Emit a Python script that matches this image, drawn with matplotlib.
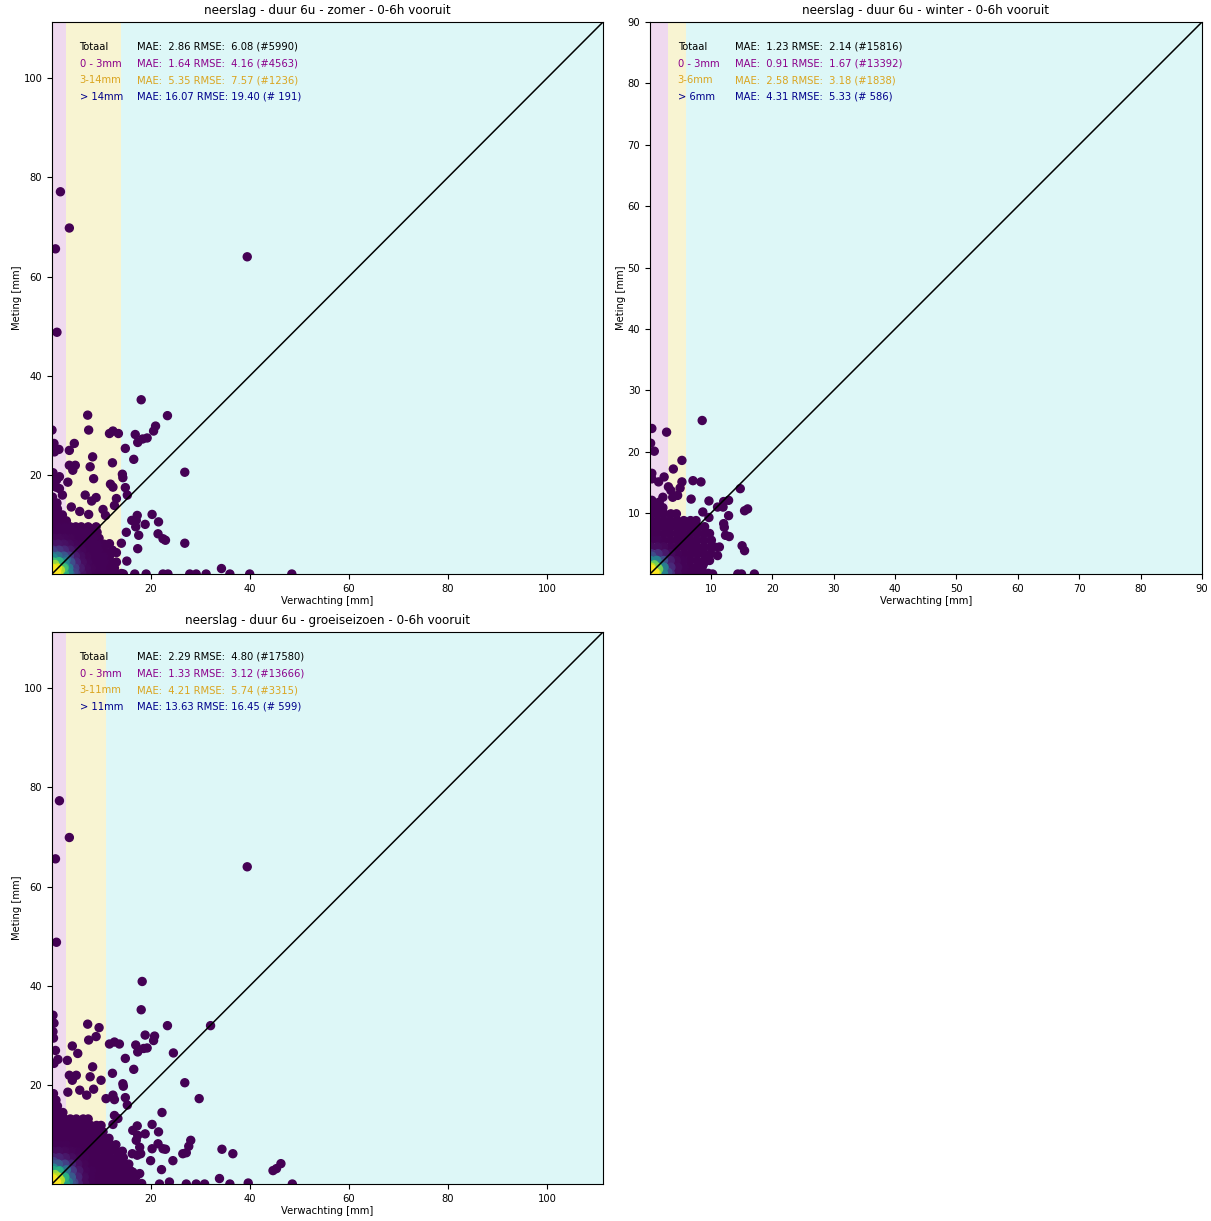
import numpy as np
import matplotlib
matplotlib.use("Agg")
from matplotlib import pyplot as plt

plt.rcParams['font.size'] = 7.2

#============== DATA ==============
# losse punten (verwachting, meting) [mm]
zomer_punten = [
    (18.1, 35.2), (7.3, 32.1), (23.4, 32.0), (7.5, 29.1), (0.1, 29.1), (21.0, 29.9), (20.6, 28.9),
    (11.7, 28.4), (12.4, 28.9), (13.5, 28.4), (16.9, 28.2), (17.4, 26.6), (18.4, 27.3), (19.3, 27.5),
    (4.6, 26.4), (3.6, 25.0), (1.5, 25.2), (0.6, 24.7), (0.5, 26.4), (14.9, 25.4), (8.3, 23.7),
    (16.6, 23.2), (12.3, 22.5), (3.6, 22.0), (4.8, 22.0), (4.3, 21.0), (7.8, 21.7), (26.9, 20.6),
    (1.6, 19.7), (8.5, 19.3), (14.3, 20.2), (14.4, 19.5), (3.3, 18.6), (0.9, 17.6), (1.6, 17.3),
    (11.9, 18.2), (12.4, 17.6), (14.9, 17.5), (15.3, 16.0), (6.8, 16.0), (9.0, 15.5), (8.1, 14.8),
    (13.1, 15.3), (12.7, 13.9), (2.2, 16.0), (4.0, 13.6), (5.7, 12.7), (7.5, 12.1), (10.4, 13.1),
    (10.9, 11.9), (17.3, 11.9), (17.1, 10.9), (18.9, 10.1), (20.3, 12.1), (16.2, 10.9), (21.6, 10.6),
    (21.5, 8.2), (22.5, 7.2), (23.0, 6.9), (26.9, 6.3), (17.4, 5.2), (17.6, 7.9), (17.0, 9.6),
    (15.1, 8.5), (14.1, 6.3), (13.1, 4.4), (11.7, 6.2), (16.8, 0.1), (19.1, 0.1), (22.5, 0.1),
    (23.5, 0.1), (27.9, 0.1), (29.2, 0.1), (31.2, 0.1), (34.3, 1.2), (36.0, 0.1), (40.0, 0.1),
    (48.5, 0.1), (14.5, 0.1), (15.2, 2.7), (0.3, 20.5), (1.0, 19.0), (0.5, 18.0),
    (1.8, 77.1), (3.6, 69.8), (0.8, 65.6), (1.1, 48.8), (39.5, 64.0),
]
winter_punten = [
    (8.6, 25.1), (0.4, 23.8), (2.8, 23.2), (0.2, 21.4), (0.8, 20.1), (5.3, 18.6), (3.9, 17.2),
    (0.4, 16.5), (0.4, 15.6), (2.4, 15.9), (1.5, 15.1), (5.3, 15.1), (5.0, 14.1), (7.1, 15.3),
    (8.4, 15.1), (3.1, 14.3), (3.5, 13.7), (14.8, 14.0), (2.2, 12.6), (0.4, 12.1), (1.6, 11.8),
    (6.8, 12.3), (3.8, 12.6), (4.6, 12.9), (9.7, 12.0), (12.9, 12.1), (12.1, 11.9), (12.0, 11.0),
    (11.1, 11.0), (15.5, 10.4), (16.0, 10.7), (12.9, 9.6), (12.1, 8.3), (12.2, 7.7), (12.4, 6.4),
    (13.0, 6.2), (15.1, 4.7), (15.5, 3.9), (11.4, 4.5), (11.1, 3.1), (8.8, 1.7), (10.3, 0.1),
    (14.4, 0.1), (15.0, 0.1), (17.1, 0.1), (9.7, 9.3), (8.7, 10.2),
]
groei_punten = [
    (18.3, 40.9), (18.1, 35.2), (23.4, 32.0), (32.1, 32.0), (7.3, 32.3), (9.6, 31.6), (7.5, 29.1),
    (9.0, 29.8), (18.9, 30.1), (20.8, 29.9), (20.6, 29.0), (0.3, 34.1), (0.5, 32.5), (0.3, 30.8),
    (11.7, 28.3), (12.7, 28.7), (13.7, 28.3), (17.0, 28.1), (17.4, 26.7), (18.6, 27.4), (19.3, 27.5),
    (24.6, 26.5), (14.9, 25.4), (16.6, 23.2), (4.2, 27.9), (5.3, 26.4), (3.2, 25.0), (1.3, 25.2),
    (0.5, 24.4), (8.3, 23.7), (12.3, 22.4), (26.9, 20.5), (29.8, 17.3), (22.3, 14.5), (3.6, 22.0),
    (5.0, 22.0), (4.2, 21.0), (7.8, 21.7), (10.0, 21.0), (8.5, 19.2), (3.3, 18.6), (5.7, 19.0),
    (7.1, 18.0), (11.0, 17.3), (14.4, 20.3), (14.5, 19.8), (12.4, 18.0), (12.7, 17.1), (14.9, 17.5),
    (15.3, 16.0), (12.7, 13.9), (13.4, 13.3), (12.4, 12.1), (20.3, 12.1), (21.6, 10.6), (18.9, 10.2),
    (17.3, 11.8), (16.4, 10.9), (17.4, 9.9), (17.1, 8.9), (17.8, 7.5), (18.0, 6.2), (20.3, 7.2),
    (20.0, 4.8), (21.5, 8.2), (22.5, 7.2), (23.0, 7.1), (24.5, 4.8), (22.2, 3.0), (26.5, 6.2),
    (27.2, 6.4), (28.1, 8.9), (27.7, 7.7), (34.4, 7.1), (36.6, 6.2), (33.9, 1.2), (44.7, 2.8),
    (46.3, 4.2), (45.4, 3.2), (39.7, 0.3), (48.6, 0.1), (21.8, 0.1), (23.8, 0.5), (27.2, 0.1),
    (29.2, 0.1), (30.9, 0.1), (36.0, 0.1), (15.2, 2.7), (16.4, 2.5), (17.8, 2.2), (12.4, 4.5),
    (13.4, 3.5), (16.3, 6.2), (17.3, 5.9), (0.4, 29.5), (0.8, 27.0),
    (1.6, 77.3), (0.8, 65.6), (3.6, 69.9), (1.0, 48.8), (39.5, 64.0),
]

# dichte wolk bij de oorsprong: (meting, [verwachtingen])
zomer_wolk = [
    (0.2, [0.3, 1.4, 2.6, 3.7, 4.9, 6.1, 7.2, 8.4, 9.5, 10.7, 11.8, 13.0, 14.1]),
    (1.3, [0.2, 1.2, 2.4, 3.5, 4.7, 5.8, 7.0, 8.1, 9.3, 10.4, 11.6, 12.7]),
    (2.5, [0.4, 1.6, 2.7, 3.9, 5.0, 6.2, 7.3, 8.5, 9.6, 10.8, 12.0, 13.1]),
    (3.7, [0.2, 1.3, 2.5, 3.6, 4.8, 5.9, 7.1, 8.2, 9.4, 10.5, 11.7]),
    (4.9, [0.3, 1.5, 2.6, 3.8, 4.9, 6.1, 7.2, 8.4, 9.5, 10.7, 12.3]),
    (6.1, [0.2, 1.3, 2.5, 3.6, 4.8, 5.9, 7.1, 8.2, 9.4, 10.6]),
    (7.3, [0.4, 1.6, 2.7, 3.9, 5.0, 6.2, 7.3, 8.5, 9.6]),
    (8.5, [0.2, 1.3, 2.5, 3.6, 4.8, 5.9, 7.1, 8.2, 9.2]),
    (9.6, [0.3, 1.5, 2.6, 3.8, 4.9, 6.0, 7.4, 9.0]),
    (10.8, [0.2, 1.3, 2.4, 3.0]),
    (12.0, [0.3, 1.4, 2.2]),
    (13.2, [0.2, 1.2]),
    (14.4, [0.3, 1.1]),
    (15.6, [0.2]),
]
winter_wolk = [
    (0.2, [0.2, 1.2, 2.3, 3.4, 4.5, 5.5, 6.6, 7.7, 8.8, 9.6]),
    (1.2, [0.3, 1.3, 2.4, 3.5, 4.6, 5.7, 6.7, 7.8, 8.6]),
    (2.3, [0.2, 1.2, 2.3, 3.4, 4.4, 5.5, 6.6, 7.7, 8.9, 9.8]),
    (3.4, [0.3, 1.4, 2.5, 3.5, 4.6, 5.7, 6.8, 7.9, 8.9, 10.0]),
    (4.5, [0.2, 1.3, 2.3, 3.4, 4.5, 5.6, 6.6, 7.7, 8.8, 9.9, 10.6]),
    (5.6, [0.3, 1.4, 2.4, 3.5, 4.6, 5.7, 6.8, 7.8, 8.9, 10.1]),
    (6.7, [0.2, 1.2, 2.3, 3.4, 4.5, 5.5, 6.6, 7.7, 8.8, 9.8]),
    (7.8, [0.3, 1.4, 2.5, 3.5, 4.6, 5.7, 6.8, 7.9, 9.0]),
    (8.8, [0.2, 1.3, 2.3, 3.4, 4.5, 5.6, 6.7, 7.6]),
    (9.9, [0.3, 1.3, 2.4, 3.5, 4.4]),
    (10.9, [0.2, 1.2, 2.2]),
    (12.0, [0.3]),
]
groei_wolk = [
    (0.2, [0.3, 1.5, 2.8, 4.1, 5.4, 6.7, 8.0, 9.3, 10.6, 11.9, 13.2, 14.5, 15.8, 17.1, 18.2]),
    (1.5, [0.2, 1.4, 2.7, 4.0, 5.3, 6.6, 7.9, 9.2, 10.5, 11.8, 13.1, 14.4, 15.7, 17.0]),
    (2.8, [0.4, 1.6, 2.9, 4.2, 5.5, 6.8, 8.1, 9.4, 10.7, 12.0, 13.3, 14.6, 15.9]),
    (4.1, [0.2, 1.4, 2.7, 4.0, 5.3, 6.6, 7.9, 9.2, 10.5, 11.8, 13.1, 14.4, 15.6]),
    (5.4, [0.3, 1.5, 2.8, 4.1, 5.4, 6.7, 8.0, 9.3, 10.6, 11.9, 13.2, 14.5]),
    (6.7, [0.2, 1.4, 2.7, 4.0, 5.3, 6.6, 7.9, 9.2, 10.5, 11.8, 13.1, 14.3]),
    (8.0, [0.3, 1.6, 2.9, 4.2, 5.5, 6.8, 8.1, 9.4, 10.7, 12.0, 13.0]),
    (9.3, [0.2, 1.4, 2.7, 4.0, 5.3, 6.6, 7.9, 9.2, 10.5, 11.6]),
    (10.6, [0.3, 1.5, 2.8, 4.1, 5.4, 6.7, 8.0, 9.3, 10.4]),
    (11.9, [0.2, 1.4, 2.7, 4.0, 5.3, 6.6, 7.9, 9.1, 10.0]),
    (13.2, [0.3, 1.5, 2.6, 3.8, 5.0, 6.4, 7.4]),
    (14.5, [0.2, 1.3, 2.3]),
    (15.8, [0.3, 1.2]),
    (17.0, [0.2, 0.9]),
    (18.3, [0.4]),
]

# kern: (verwachting, meting, aantal) - zeer veel waarnemingen rond 0
zomer_kern = [(0.2, 0.2, 1500), (1.0, 0.5, 700), (0.4, 1.1, 600), (1.8, 0.9, 300), (0.7, 2.0, 300),
              (2.6, 1.4, 120), (1.5, 2.6, 120), (0.4, 3.3, 80), (3.4, 0.5, 80),
              (4.5, 0.4, 40), (0.4, 4.6, 40), (3.0, 3.0, 40)]
winter_kern = [(0.2, 0.2, 3000), (0.9, 0.4, 1200), (0.3, 0.9, 1200), (1.5, 0.9, 400), (0.8, 1.6, 400),
               (2.3, 1.2, 150), (1.2, 2.3, 150), (3.0, 0.4, 80), (0.4, 3.0, 80)]
groei_kern = [(0.2, 0.2, 3500), (1.0, 0.5, 1600), (0.4, 1.1, 1400), (1.8, 0.9, 700), (0.7, 2.0, 700),
              (2.6, 1.4, 280), (1.5, 2.6, 280), (0.4, 3.3, 180), (3.4, 0.5, 180),
              (4.5, 0.4, 90), (0.4, 4.6, 90), (3.0, 3.0, 90)]

titels = ["neerslag - duur 6u - zomer - 0-6h vooruit",
          "neerslag - duur 6u - winter - 0-6h vooruit",
          "neerslag - duur 6u - groeiseizoen - 0-6h vooruit"]
grenzen = [(3, 14), (3, 6), (3, 11)]
asmax = [111.3, 90.0, 111.3]

zomer_mae = [2.86, 1.64, 5.35, 16.07]
zomer_rmse = [6.08, 4.16, 7.57, 19.40]
zomer_n = [5990, 4563, 1236, 191]
winter_mae = [1.23, 0.91, 2.58, 4.31]
winter_rmse = [2.14, 1.67, 3.18, 5.33]
winter_n = [15816, 13392, 1838, 586]
groei_mae = [2.29, 1.33, 4.21, 13.63]
groei_rmse = [4.80, 3.12, 5.74, 16.45]
groei_n = [17580, 13666, 3315, 599]

klasse_kleur = ['black', 'darkmagenta', 'goldenrod', 'darkblue']
band_kleur = ['#efd9ef', '#f8f4d2', '#ddf7f7']


def dichtheid(x, y, w, h):
    dx = x[:, None] - x[None, :]
    dy = y[:, None] - y[None, :]
    k = np.exp(-(dx ** 2 + dy ** 2) / (2 * h ** 2))
    return k @ w


def bouw(punten, wolk, kern):
    xs = [p[0] for p in punten]
    ys = [p[1] for p in punten]
    ws = [1] * len(punten)
    for yy, rij in wolk:
        for xx in rij:
            xs.append(xx)
            ys.append(yy)
            ws.append(1)
    for xx, yy, n in kern:
        xs.append(xx)
        ys.append(yy)
        ws.append(n)
    return np.array(xs, float), np.array(ys, float), np.array(ws, float)


panelen = [
    (zomer_punten, zomer_wolk, zomer_kern, 1.9, zomer_mae, zomer_rmse, zomer_n),
    (winter_punten, winter_wolk, winter_kern, 1.3, winter_mae, winter_rmse, winter_n),
    (groei_punten, groei_wolk, groei_kern, 1.9, groei_mae, groei_rmse, groei_n),
]

W, H = 1211, 1221
fig = plt.figure(figsize=(W / 100, H / 100), dpi=100)
posities = [
    [52 / W, 1 - 574 / H, 551 / W, 552 / H],
    [650 / W, 1 - 574 / H, 552 / W, 552 / H],
    [52 / W, 1 - 1184 / H, 551 / W, 552 / H],
]

for i, (punten, wolk, kern, h, mae, rmse, n) in enumerate(panelen):
    ax = fig.add_axes(posities[i])
    g1, g2 = grenzen[i]
    m = asmax[i]
    ax.axvspan(0, g1, color=band_kleur[0], zorder=0, lw=0)
    ax.axvspan(g1, g2, color=band_kleur[1], zorder=0, lw=0)
    ax.axvspan(g2, m, color=band_kleur[2], zorder=0, lw=0)

    x, y, w = bouw(punten, wolk, kern)
    d = dichtheid(x, y, w, h)
    d = d / d.max()
    idx = d.argsort()
    ax.scatter(x[idx], y[idx], c=d[idx], cmap='viridis', vmin=0, vmax=1, s=33, zorder=2)
    ax.plot([0, m], [0, m], color='black', lw=1.1, zorder=3)

    labels = ['Totaal', '0 - %dmm' % g1, '%d-%dmm' % (g1, g2), '> %dmm' % g2]
    for r in range(4):
        yy = 0.955 - r * 0.0302
        ax.text(0.05, yy, labels[r], color=klasse_kleur[r], transform=ax.transAxes, va='center')
        ax.text(0.154, yy, "MAE: %5.2f RMSE: %5.2f (#%4d)" % (mae[r], rmse[r], n[r]),
                color=klasse_kleur[r], transform=ax.transAxes, va='center')

    ax.set_xlim(0.1, m)
    ax.set_ylim(0.1, m)
    ax.set_title(titels[i], fontsize=8.64)
    ax.set_xlabel("Verwachting [mm]", labelpad=2)
    ax.set_ylabel("Meting [mm]", labelpad=1)

fig.savefig("out.png", dpi=100)
